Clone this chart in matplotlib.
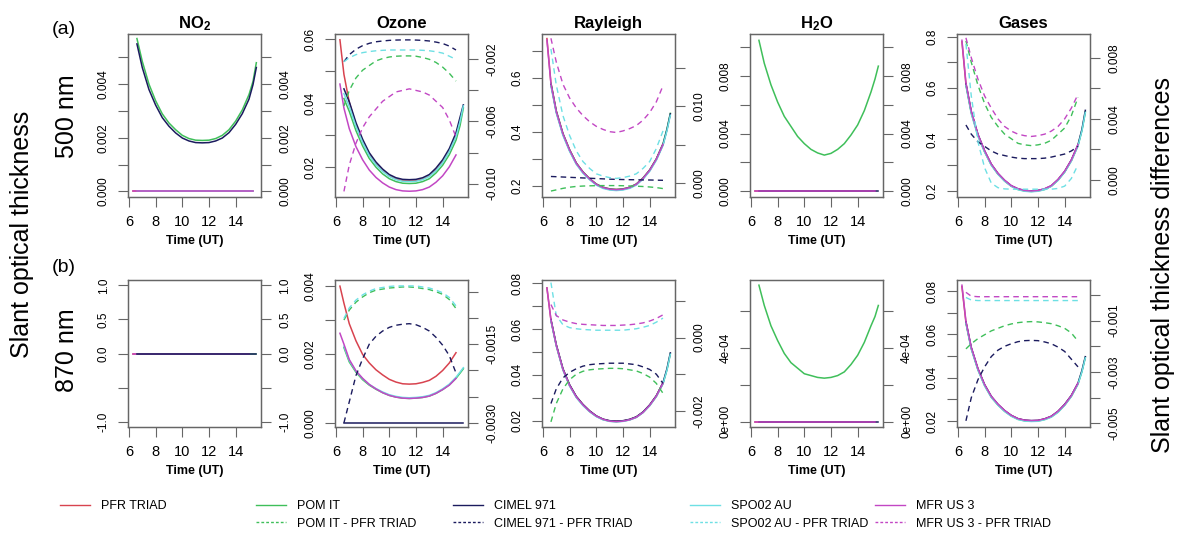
import numpy as np
import matplotlib
matplotlib.use("Agg")
import matplotlib.pyplot as plt
from matplotlib.lines import Line2D

plt.rcParams['font.family'] = ['Liberation Sans', 'DejaVu Sans']
plt.rcParams['mathtext.fontset'] = 'custom'
plt.rcParams['mathtext.rm'] = 'Liberation Sans'
plt.rcParams['mathtext.bf'] = 'Liberation Sans:bold'
plt.rcParams['mathtext.it'] = 'Liberation Sans:italic'

nan = np.nan

# time of the day (UT)
time_ut = [6.3, 6.6, 7.0, 7.5, 8.0, 8.5, 9.0, 9.5, 10.0, 10.5, 11.0, 11.5, 12.0, 12.5, 13.0, 13.5, 14.0, 14.5, 15.0, 15.3, 15.55]

# ---------------- 500 nm ----------------
no2_a_pfr = [0, 0, 0, 0, 0, 0, 0, 0, 0, 0, 0, 0, 0, 0, 0, 0, 0, 0, 0, 0, nan]
no2_a_pom = [nan, 0.0057, 0.00485, 0.0040, 0.00338, 0.00289, 0.00255, 0.0023, 0.00209, 0.00197, 0.00191, 0.0019, 0.00191, 0.00197, 0.00209, 0.0023, 0.00262, 0.00304, 0.00361, 0.0041, 0.0048]
no2_a_cimel = [nan, 0.0055, 0.00462, 0.0038, 0.00322, 0.00275, 0.00243, 0.00218, 0.00199, 0.00188, 0.00182, 0.00181, 0.00182, 0.00188, 0.00199, 0.00219, 0.0025, 0.0029, 0.00344, 0.00398, 0.00462]
no2_a_spo = [nan, 0, 0, 0, 0, 0, 0, 0, 0, 0, 0, 0, 0, 0, 0, 0, 0, 0, 0, 0, nan]
no2_a_mfr = [0, 0, 0, 0, 0, 0, 0, 0, 0, 0, 0, 0, 0, 0, 0, 0, 0, 0, 0, 0, nan]

oz_a_pfr = [0.0598, 0.049, 0.0403, 0.0332, 0.0281, 0.024, 0.0212, 0.0191, 0.0174, 0.0164, 0.0159, 0.0158, 0.0159, 0.0164, 0.0174, 0.0193, 0.0218, 0.0253, 0.030, nan, nan]
oz_a_pom = [nan, 0.0415, 0.0375, 0.0315, 0.0267, 0.0228, 0.0201, 0.018, 0.0165, 0.0156, 0.0151, 0.0150, 0.0151, 0.0156, 0.0165, 0.0183, 0.0207, 0.024, 0.0285, 0.033, 0.0385]
oz_a_cimel = [nan, 0.0445, 0.0405, 0.034, 0.0288, 0.0246, 0.0217, 0.0195, 0.0178, 0.0168, 0.0163, 0.0162, 0.0163, 0.0168, 0.0178, 0.0198, 0.0224, 0.0259, 0.0308, 0.0356, 0.0395]
oz_a_spo = [nan, 0.043, 0.039, 0.0328, 0.0278, 0.0237, 0.0209, 0.0188, 0.0172, 0.0162, 0.0157, 0.0156, 0.0157, 0.0162, 0.0172, 0.019, 0.0215, 0.025, 0.0296, 0.0343, 0.0392]
oz_a_mfr = [0.046, 0.0385, 0.0321, 0.0265, 0.0224, 0.0192, 0.0169, 0.0152, 0.0139, 0.0131, 0.0127, 0.0126, 0.0127, 0.0131, 0.0139, 0.0154, 0.0174, 0.0202, 0.0239, nan, nan]
oz_a_pom_d = [nan, -0.0050, -0.0040, -0.0032, -0.0027, -0.0024, -0.0021, -0.00195, -0.00185, -0.0018, -0.00178, -0.00178, -0.0018, -0.00188, -0.0020, -0.0022, -0.0025, -0.0029, -0.0034, nan, nan]
oz_a_cimel_d = [nan, -0.00215, -0.0017, -0.00135, -0.00112, -0.00097, -0.00087, -0.00082, -0.00078, -0.00076, -0.00075, -0.00075, -0.00076, -0.00078, -0.00082, -0.00089, -0.00098, -0.00115, -0.0014, nan, nan]
oz_a_spo_d = [nan, -0.00215, -0.0019, -0.0017, -0.00157, -0.0015, -0.00145, -0.00142, -0.0014, -0.0014, -0.0014, -0.0014, -0.0014, -0.00142, -0.00145, -0.00151, -0.0016, -0.0018, -0.0020, nan, nan]
oz_a_mfr_d = [nan, -0.0105, -0.0088, -0.0074, -0.0064, -0.0057, -0.0052, -0.0047, -0.0044, -0.0041, -0.0040, -0.0039, -0.0040, -0.0041, -0.0043, -0.0047, -0.0051, -0.0059, -0.0070, nan, nan]

ray_a_pfr = [0.745, 0.58, 0.477, 0.393, 0.333, 0.284, 0.251, 0.226, 0.206, 0.194, 0.188, 0.186, 0.188, 0.194, 0.206, 0.228, 0.258, 0.299, 0.355, nan, nan]
ray_a_pom = [nan, 0.58, 0.477, 0.393, 0.333, 0.284, 0.251, 0.226, 0.206, 0.194, 0.188, 0.186, 0.188, 0.194, 0.206, 0.228, 0.258, 0.299, 0.355, 0.411, 0.468]
ray_a_cimel = [nan, 0.575, 0.473, 0.39, 0.33, 0.282, 0.249, 0.224, 0.204, 0.192, 0.186, 0.184, 0.186, 0.192, 0.204, 0.226, 0.256, 0.297, 0.352, 0.408, 0.466]
ray_a_spo = [nan, 0.57, 0.469, 0.386, 0.327, 0.279, 0.246, 0.222, 0.202, 0.19, 0.184, 0.182, 0.184, 0.19, 0.202, 0.224, 0.253, 0.294, 0.349, 0.404, 0.461]
ray_a_mfr = [0.74, 0.578, 0.475, 0.392, 0.332, 0.283, 0.25, 0.225, 0.205, 0.193, 0.187, 0.185, 0.187, 0.193, 0.205, 0.227, 0.257, 0.298, 0.353, nan, nan]
ray_a_pom_d = [nan, -0.00105, -0.0009, -0.0007, -0.00055, -0.00045, -0.0004, -0.00037, -0.00035, -0.00034, -0.00034, -0.00034, -0.00036, -0.00039, -0.00042, -0.00046, -0.00052, -0.0006, -0.00073, nan, nan]
ray_a_cimel_d = [nan, 0.00085, 0.00082, 0.00078, 0.00074, 0.0007, 0.00066, 0.00062, 0.00058, 0.00054, 0.0005, 0.00047, 0.00045, 0.00043, 0.00042, 0.0004, 0.00039, 0.00037, 0.00035, nan, nan]
ray_a_spo_d = [nan, 0.0175, 0.0128, 0.0088, 0.0062, 0.0042, 0.0028, 0.0019, 0.0012, 0.0009, 0.0007, 0.0006, 0.0007, 0.0009, 0.0012, 0.0019, 0.0028, 0.0045, 0.0068, nan, nan]
ray_a_mfr_d = [nan, 0.0189, 0.0158, 0.0129, 0.0111, 0.0098, 0.0088, 0.008, 0.0074, 0.0070, 0.0067, 0.0066, 0.0068, 0.0071, 0.0075, 0.0082, 0.0092, 0.0106, 0.0127, nan, nan]

h2o_a_pfr = [0, 0, 0, 0, 0, 0, 0, 0, 0, 0, 0, 0, 0, 0, 0, 0, 0, 0, 0, 0, nan]
h2o_a_pom = [nan, 0.0105, 0.0089, 0.0074, 0.0062, 0.0052, 0.0045, 0.0038, 0.0033, 0.0029, 0.00265, 0.0025, 0.00262, 0.0029, 0.0033, 0.0039, 0.0046, 0.0056, 0.0069, 0.0078, 0.0087]
h2o_a_cimel = [nan, 0, 0, 0, 0, 0, 0, 0, 0, 0, 0, 0, 0, 0, 0, 0, 0, 0, 0, 0, 0]
h2o_a_mfr = [0, 0, 0, 0, 0, 0, 0, 0, 0, 0, 0, 0, 0, 0, 0, 0, 0, 0, 0, 0, nan]

gas_a_pfr = [0.78, 0.615, 0.506, 0.417, 0.353, 0.302, 0.266, 0.239, 0.218, 0.206, 0.2, 0.198, 0.2, 0.206, 0.218, 0.242, 0.274, 0.318, 0.377, nan, nan]
gas_a_pom = [nan, 0.612, 0.503, 0.415, 0.352, 0.301, 0.265, 0.238, 0.218, 0.205, 0.199, 0.197, 0.199, 0.205, 0.218, 0.241, 0.273, 0.317, 0.376, 0.436, 0.507]
gas_a_cimel = [nan, 0.617, 0.508, 0.419, 0.355, 0.303, 0.267, 0.24, 0.219, 0.207, 0.201, 0.199, 0.201, 0.207, 0.219, 0.243, 0.275, 0.319, 0.379, 0.44, 0.513]
gas_a_spo = [nan, 0.61, 0.5, 0.412, 0.35, 0.299, 0.264, 0.237, 0.217, 0.204, 0.198, 0.196, 0.198, 0.204, 0.217, 0.24, 0.272, 0.315, 0.374, 0.434, 0.505]
gas_a_mfr = [0.786, 0.62, 0.51, 0.42, 0.356, 0.304, 0.268, 0.241, 0.22, 0.208, 0.201, 0.199, 0.201, 0.208, 0.22, 0.244, 0.276, 0.32, 0.38, nan, nan]
gas_a_pom_d = [nan, 0.0091, 0.0077, 0.0062, 0.0050, 0.0041, 0.0035, 0.003, 0.0027, 0.0024, 0.0023, 0.00225, 0.0023, 0.0024, 0.0026, 0.003, 0.0034, 0.0042, 0.0054, nan, nan]
gas_a_cimel_d = [nan, 0.0036, 0.0030, 0.0025, 0.0022, 0.0019, 0.0017, 0.0016, 0.0015, 0.00143, 0.0014, 0.0014, 0.0014, 0.00143, 0.0015, 0.0016, 0.0017, 0.0019, 0.0022, nan, nan]
gas_a_spo_d = [nan, 0.0089, 0.0055, 0.0025, 0.0008, -0.0002, -0.0005, -0.00058, -0.0006, -0.0006, -0.0006, -0.0006, -0.0006, -0.0006, -0.0006, -0.00055, -0.0004, 0.0001, 0.0010, nan, nan]
gas_a_mfr_d = [nan, 0.0093, 0.0080, 0.0066, 0.0055, 0.0047, 0.0040, 0.0035, 0.0032, 0.003, 0.0029, 0.00285, 0.0029, 0.003, 0.0032, 0.0035, 0.0040, 0.0047, 0.0056, nan, nan]

# ---------------- 870 nm ----------------
no2_b_pfr = [0, 0, 0, 0, 0, 0, 0, 0, 0, 0, 0, 0, 0, 0, 0, 0, 0, 0, 0, nan, nan]
no2_b_pom = [nan, 0, 0, 0, 0, 0, 0, 0, 0, 0, 0, 0, 0, 0, 0, 0, 0, 0, 0, 0, 0]
no2_b_mfr = [0, 0, 0, 0, 0, 0, 0, 0, 0, 0, 0, 0, 0, 0, 0, 0, 0, 0, 0, nan, nan]
no2_b_cimel = [nan, 0, 0, 0, 0, 0, 0, 0, 0, 0, 0, 0, 0, 0, 0, 0, 0, 0, 0, 0, 0]

oz_b_pfr = [0.0040, 0.0035, 0.0029, 0.0024, 0.0020, 0.00175, 0.00155, 0.0014, 0.00127, 0.00119, 0.00114, 0.00113, 0.00114, 0.00118, 0.00124, 0.00136, 0.00153, 0.00175, 0.00205, nan, nan]
oz_b_pom = [nan, 0.0022, 0.00178, 0.00148, 0.00126, 0.0011, 0.00098, 0.00088, 0.0008, 0.00075, 0.00072, 0.00071, 0.00072, 0.00074, 0.00078, 0.00086, 0.00097, 0.00111, 0.0013, 0.00145, 0.00158]
oz_b_cimel = [nan, 0, 0, 0, 0, 0, 0, 0, 0, 0, 0, 0, 0, 0, 0, 0, 0, 0, 0, 0, 0]
oz_b_spo = [nan, 0.00224, 0.00182, 0.00151, 0.00129, 0.00112, 0.001, 0.0009, 0.00082, 0.00077, 0.00074, 0.00073, 0.00074, 0.00076, 0.0008, 0.00088, 0.00099, 0.00113, 0.00133, 0.00148, 0.00161]
oz_b_mfr = [0.00262, 0.0023, 0.00185, 0.00152, 0.0013, 0.00112, 0.00099, 0.00088, 0.0008, 0.00075, 0.00072, 0.00071, 0.00072, 0.00074, 0.00078, 0.00086, 0.00097, 0.0011, 0.0013, nan, nan]
oz_b_pom_d = [nan, -0.00104, -0.00085, -0.0007, -0.0006, -0.00052, -0.00047, -0.00045, -0.00043, -0.00042, -0.00041, -0.00041, -0.00042, -0.00044, -0.00046, -0.0005, -0.00055, -0.00065, -0.00082, nan, nan]
oz_b_cimel_d = [nan, -0.0030, -0.0026, -0.0021, -0.00178, -0.0015, -0.00135, -0.00125, -0.00118, -0.00114, -0.00112, -0.00111, -0.00113, -0.00118, -0.00125, -0.00137, -0.00152, -0.00172, -0.00205, nan, nan]
oz_b_spo_d = [nan, -0.00101, -0.00081, -0.00066, -0.00056, -0.00049, -0.00044, -0.00042, -0.0004, -0.00039, -0.00039, -0.00039, -0.00039, -0.00041, -0.00043, -0.00047, -0.00052, -0.00061, -0.00077, nan, nan]

ray_b_pfr = [0.078, 0.064, 0.053, 0.0425, 0.0355, 0.0305, 0.027, 0.0242, 0.022, 0.0206, 0.0199, 0.0197, 0.0199, 0.0205, 0.0216, 0.0237, 0.0268, 0.0308, 0.0365, nan, nan]
ray_b_pom = [nan, 0.0638, 0.0528, 0.0423, 0.0353, 0.0303, 0.0268, 0.024, 0.0219, 0.0205, 0.0198, 0.0196, 0.0198, 0.0204, 0.0215, 0.0236, 0.0266, 0.0306, 0.0362, 0.0423, 0.0492]
ray_b_cimel = [nan, 0.0642, 0.0532, 0.0427, 0.0357, 0.0306, 0.0271, 0.0243, 0.0221, 0.0207, 0.02, 0.0198, 0.02, 0.0206, 0.0217, 0.0238, 0.0269, 0.0309, 0.0366, 0.0427, 0.0496]
ray_b_spo = [nan, 0.0636, 0.0526, 0.0421, 0.0351, 0.0301, 0.0266, 0.0239, 0.0218, 0.0204, 0.0197, 0.0195, 0.0197, 0.0203, 0.0214, 0.0235, 0.0265, 0.0305, 0.0361, 0.0421, 0.049]
ray_b_mfr = [0.0779, 0.0639, 0.0529, 0.0424, 0.0354, 0.0304, 0.0269, 0.0241, 0.022, 0.0206, 0.0198, 0.0196, 0.0198, 0.0204, 0.0215, 0.0236, 0.0267, 0.0307, 0.0364, nan, nan]
ray_b_pom_d = [nan, -0.0023, -0.0018, -0.0014, -0.00115, -0.001, -0.00092, -0.00088, -0.00086, -0.00085, -0.00084, -0.00084, -0.00085, -0.00088, -0.00091, -0.00098, -0.00108, -0.00125, -0.00152, nan, nan]
ray_b_cimel_d = [nan, -0.0018, -0.0014, -0.0011, -0.00095, -0.00085, -0.00078, -0.00074, -0.00072, -0.00071, -0.0007, -0.0007, -0.0007, -0.00072, -0.00074, -0.0008, -0.00087, -0.001, -0.00125, nan, nan]
ray_b_spo_d = [nan, 0.0015, 0.0006, 0.00035, 0.00027, 0.00024, 0.00022, 0.00021, 0.0002, 0.0002, 0.0002, 0.0002, 0.0002, 0.00022, 0.00024, 0.00028, 0.00033, 0.00042, 0.00053, nan, nan]
ray_b_mfr_d = [nan, 0.0009, 0.0006, 0.00048, 0.00042, 0.00038, 0.00036, 0.00035, 0.00034, 0.00033, 0.00033, 0.00033, 0.00034, 0.00035, 0.00037, 0.0004, 0.00045, 0.00052, 0.00062, nan, nan]

h2o_b_pfr = [0, 0, 0, 0, 0, 0, 0, 0, 0, 0, 0, 0, 0, 0, 0, 0, 0, 0, 0, 0, nan]
h2o_b_pom = [nan, 0.00074, 0.00063, 0.00052, 0.00044, 0.00037, 0.00032, 0.00029, 0.00026, 0.00025, 0.00024, 0.000236, 0.00024, 0.00025, 0.00027, 0.00031, 0.00036, 0.00043, 0.00052, 0.00057, 0.00063]
h2o_b_cimel = [nan, 0, 0, 0, 0, 0, 0, 0, 0, 0, 0, 0, 0, 0, 0, 0, 0, 0, 0, 0, 0]
h2o_b_mfr = [0, 0, 0, 0, 0, 0, 0, 0, 0, 0, 0, 0, 0, 0, 0, 0, 0, 0, 0, 0, nan]

gas_b_pfr = [0.082, 0.0655, 0.0536, 0.0439, 0.0366, 0.0312, 0.0276, 0.0247, 0.0225, 0.021, 0.0203, 0.0201, 0.0202, 0.0209, 0.0221, 0.0243, 0.0275, 0.0316, 0.0373, nan, nan]
gas_b_pom = [nan, 0.0653, 0.0534, 0.0437, 0.0364, 0.031, 0.0274, 0.0245, 0.0223, 0.0208, 0.0201, 0.0199, 0.02, 0.0207, 0.0219, 0.0241, 0.0273, 0.0314, 0.0371, 0.043, 0.0494]
gas_b_cimel = [nan, 0.0658, 0.0539, 0.0441, 0.0368, 0.0314, 0.0277, 0.0248, 0.0226, 0.0211, 0.0204, 0.0202, 0.0203, 0.021, 0.0222, 0.0245, 0.0277, 0.0318, 0.0375, 0.0434, 0.0497]
gas_b_spo = [nan, 0.0651, 0.0532, 0.0435, 0.0362, 0.0309, 0.0273, 0.0244, 0.0222, 0.0207, 0.02, 0.0198, 0.0199, 0.0206, 0.0218, 0.024, 0.0272, 0.0313, 0.037, 0.0428, 0.0492]
gas_b_mfr = [0.0827, 0.066, 0.054, 0.0442, 0.0368, 0.0314, 0.0278, 0.0249, 0.0226, 0.0211, 0.0204, 0.0202, 0.0203, 0.021, 0.0222, 0.0245, 0.0276, 0.0317, 0.0375, nan, nan]
gas_b_pom_d = [nan, -0.0021, -0.0019, -0.0017, -0.00155, -0.0014, -0.0013, -0.0012, -0.00113, -0.00108, -0.00105, -0.00104, -0.00105, -0.00108, -0.00112, -0.0012, -0.0013, -0.00148, -0.0018, nan, nan]
gas_b_cimel_d = [nan, -0.0049, -0.0040, -0.0033, -0.0028, -0.0024, -0.00215, -0.002, -0.0019, -0.00182, -0.00178, -0.00177, -0.00178, -0.00183, -0.0019, -0.00203, -0.0022, -0.0025, -0.0028, nan, nan]
gas_b_spo_d = [nan, -0.0001, -0.0002, -0.00022, -0.00022, -0.00022, -0.00022, -0.00022, -0.00022, -0.00022, -0.00022, -0.00022, -0.00022, -0.00022, -0.00022, -0.00022, -0.00022, -0.00022, -0.00022, nan, nan]
gas_b_mfr_d = [nan, 0.0001, -0.00005, -0.00007, -0.00007, -0.00007, -0.00007, -0.00007, -0.00007, -0.00007, -0.00007, -0.00007, -0.00007, -0.00007, -0.00007, -0.00007, -0.00007, -0.00007, -0.00007, nan, nan]

instrument_names = ['PFR TRIAD', 'POM IT', 'CIMEL 971', 'SPO02 AU', 'MFR US 3']
colors = {'pfr': '#d8434f', 'pom': '#3fbf5a', 'cimel': '#1b1b5e', 'spo': '#6ee0e4', 'mfr': '#c247c4'}

panels = [
    dict(row=0, col=0, title='NO$_\\mathbf{2}$',
         solid={'pfr': no2_a_pfr, 'pom': no2_a_pom, 'cimel': no2_a_cimel, 'spo': no2_a_spo, 'mfr': no2_a_mfr},
         dashed={},
         ylim=(-0.00021, 0.00587), yt=[0, 0.001, 0.002, 0.003, 0.004, 0.005],
         ytl=['0.000', '', '0.002', '', '0.004', ''],
         ylim2=(-0.00021, 0.00587), yt2=[0, 0.001, 0.002, 0.003, 0.004, 0.005],
         ytl2=['0.000', '', '0.002', '', '0.004', '']),
    dict(row=0, col=1, title='Ozone',
         solid={'pfr': oz_a_pfr, 'pom': oz_a_pom, 'cimel': oz_a_cimel, 'spo': oz_a_spo, 'mfr': oz_a_mfr},
         dashed={'pom': oz_a_pom_d, 'cimel': oz_a_cimel_d, 'spo': oz_a_spo_d, 'mfr': oz_a_mfr_d},
         ylim=(0.0108, 0.0616), yt=[0.02, 0.03, 0.04, 0.05, 0.06],
         ytl=['0.02', '', '0.04', '', '0.06'],
         ylim2=(-0.01086, -0.00037), yt2=[-0.010, -0.008, -0.006, -0.004, -0.002],
         ytl2=['-0.010', '', '-0.006', '', '-0.002']),
    dict(row=0, col=2, title='Rayleigh',
         solid={'pfr': ray_a_pfr, 'pom': ray_a_pom, 'cimel': ray_a_cimel, 'spo': ray_a_spo, 'mfr': ray_a_mfr},
         dashed={'pom': ray_a_pom_d, 'cimel': ray_a_cimel_d, 'spo': ray_a_spo_d, 'mfr': ray_a_mfr_d},
         ylim=(0.158, 0.762), yt=[0.2, 0.3, 0.4, 0.5, 0.6, 0.7],
         ytl=['0.2', '', '0.4', '', '0.6', ''],
         ylim2=(-0.00183, 0.01946), yt2=[0, 0.005, 0.010, 0.015],
         ytl2=['0.000', '', '0.010', '']),
    dict(row=0, col=3, title='H$_\\mathbf{2}$O',
         solid={'pfr': h2o_a_pfr, 'pom': h2o_a_pom, 'cimel': h2o_a_cimel, 'mfr': h2o_a_mfr},
         dashed={},
         ylim=(-0.00042, 0.01094), yt=[0, 0.002, 0.004, 0.006, 0.008, 0.010],
         ytl=['0.000', '', '0.004', '', '0.008', ''],
         ylim2=(-0.00042, 0.01094), yt2=[0, 0.002, 0.004, 0.006, 0.008, 0.010],
         ytl2=['0.000', '', '0.004', '', '0.008', '']),
    dict(row=0, col=4, title='Gases',
         solid={'pfr': gas_a_pfr, 'pom': gas_a_pom, 'cimel': gas_a_cimel, 'spo': gas_a_spo, 'mfr': gas_a_mfr},
         dashed={'pom': gas_a_pom_d, 'cimel': gas_a_cimel_d, 'spo': gas_a_spo_d, 'mfr': gas_a_mfr_d},
         ylim=(0.1755, 0.8105), yt=[0.2, 0.3, 0.4, 0.5, 0.6, 0.7, 0.8],
         ytl=['0.2', '', '0.4', '', '0.6', '', '0.8'],
         ylim2=(-0.00111, 0.00955), yt2=[0, 0.002, 0.004, 0.006, 0.008],
         ytl2=['0.000', '', '0.004', '', '0.008']),
    dict(row=1, col=0, title=None, order=['pfr', 'pom', 'spo', 'mfr', 'cimel'],
         solid={'pfr': no2_b_pfr, 'pom': no2_b_pom, 'mfr': no2_b_mfr, 'cimel': no2_b_cimel},
         dashed={},
         ylim=(-1.08, 1.08), yt=[-1.0, -0.5, 0.0, 0.5, 1.0],
         ytl=['-1.0', '', '0.0', '0.5', '1.0'],
         ylim2=(-1.08, 1.08), yt2=[-1.0, -0.5, 0.0, 0.5, 1.0],
         ytl2=['-1.0', '', '0.0', '0.5', '1.0']),
    dict(row=1, col=1, title=None,
         solid={'pfr': oz_b_pfr, 'pom': oz_b_pom, 'cimel': oz_b_cimel, 'spo': oz_b_spo, 'mfr': oz_b_mfr},
         dashed={'pom': oz_b_pom_d, 'cimel': oz_b_cimel_d, 'spo': oz_b_spo_d},
         ylim=(-0.000126, 0.00418), yt=[0, 0.001, 0.002, 0.003, 0.004],
         ytl=['0.000', '', '0.002', '', '0.004'],
         ylim2=(-0.00308, -0.000277), yt2=[-0.003, -0.0025, -0.002, -0.0015, -0.001, -0.0005],
         ytl2=['-0.0030', '', '', '-0.0015', '', '']),
    dict(row=1, col=2, title=None,
         solid={'pfr': ray_b_pfr, 'pom': ray_b_pom, 'cimel': ray_b_cimel, 'spo': ray_b_spo, 'mfr': ray_b_mfr},
         dashed={'pom': ray_b_pom_d, 'cimel': ray_b_cimel_d, 'spo': ray_b_spo_d, 'mfr': ray_b_mfr_d},
         ylim=(0.01725, 0.0814), yt=[0.02, 0.03, 0.04, 0.05, 0.06, 0.07, 0.08],
         ytl=['0.02', '', '0.04', '', '0.06', '', '0.08'],
         ylim2=(-0.00244, 0.00157), yt2=[-0.002, -0.001, 0.0, 0.001],
         ytl2=['-0.002', '', '0.000', '']),
    dict(row=1, col=3, title=None,
         solid={'pfr': h2o_b_pfr, 'pom': h2o_b_pom, 'cimel': h2o_b_cimel, 'mfr': h2o_b_mfr},
         dashed={},
         ylim=(-0.0000287, 0.000768), yt=[0, 0.0002, 0.0004, 0.0006],
         ytl=['0e+00', '', '4e-04', ''],
         ylim2=(-0.0000287, 0.000768), yt2=[0, 0.0002, 0.0004, 0.0006],
         ytl2=['0e+00', '', '4e-04', '']),
    dict(row=1, col=4, title=None,
         solid={'pfr': gas_b_pfr, 'pom': gas_b_pom, 'cimel': gas_b_cimel, 'spo': gas_b_spo, 'mfr': gas_b_mfr},
         dashed={'pom': gas_b_pom_d, 'cimel': gas_b_cimel_d, 'spo': gas_b_spo_d, 'mfr': gas_b_mfr_d},
         ylim=(0.01724, 0.0851), yt=[0.02, 0.03, 0.04, 0.05, 0.06, 0.07, 0.08],
         ytl=['0.02', '', '0.04', '', '0.06', '', '0.08'],
         ylim2=(-0.00514, 0.00058), yt2=[-0.005, -0.004, -0.003, -0.002, -0.001, 0.0],
         ytl2=['-0.005', '', '-0.003', '', '-0.001', '']),
]

W, H = 1180, 539
fig = plt.figure(figsize=(W / 100, H / 100), dpi=100)

col_left = [128, 335, 542, 750, 957]
row_span = [(34, 197), (280, 427)]
box_w = 133
edge = '#666666'

for p in panels:
    top, bot = row_span[p['row']]
    left = col_left[p['col']]
    ax = fig.add_axes([left / W, 1 - bot / H, box_w / W, (bot - top) / H])
    ax2 = ax.twinx()

    for key in p.get('order', ['pfr', 'pom', 'cimel', 'spo', 'mfr']):
        if key in p['solid']:
            ax.plot(time_ut, p['solid'][key], color=colors[key], lw=1.1)
    for key in ['pom', 'cimel', 'spo', 'mfr']:
        if key in p['dashed']:
            ax2.plot(time_ut, p['dashed'][key], color=colors[key], lw=1.0, dashes=(4, 3))

    ax.set_xlim(5.93, 15.9)
    ax.set_ylim(*p['ylim'])
    ax2.set_ylim(*p['ylim2'])
    ax.set_xticks([6, 8, 10, 12, 14])
    ax.set_yticks(p['yt'])
    ax.set_yticklabels(p['ytl'], rotation=90, va='center')
    ax2.set_yticks(p['yt2'])
    ax2.set_yticklabels(p['ytl2'], rotation=90, va='center')

    for a in (ax, ax2):
        a.tick_params(direction='out', length=7, width=0.8, color=edge, pad=6)
        for s in a.spines.values():
            s.set_color(edge)
            s.set_linewidth(0.9)
    ax.tick_params(axis='x', labelsize=10.5)
    ax.tick_params(axis='y', labelsize=8.5)
    ax2.tick_params(axis='y', labelsize=8.5)

    ax.set_xlabel('Time (UT)', fontsize=9, fontweight='bold', labelpad=4)
    if p['title']:
        ax.set_title(p['title'], fontsize=12, fontweight='bold', pad=4)

fig.text(64 / W, 1 - 30 / H, '(a)', fontsize=14, ha='center', va='center')
fig.text(64 / W, 1 - 268 / H, '(b)', fontsize=14, ha='center', va='center')
fig.text(67 / W, 1 - 116 / H, '500 nm', fontsize=18, rotation=90, ha='center', va='center')
fig.text(67 / W, 1 - 350 / H, '870 nm', fontsize=18, rotation=90, ha='center', va='center')
fig.text(22 / W, 1 - 234 / H, 'Slant optical thickness', fontsize=18, rotation=90, ha='center', va='center')
fig.text(1163 / W, 1 - 265 / H, 'Slant optical thickness differences', fontsize=18, rotation=90,
         ha='center', va='center')

# legend, one block per instrument
keys = ['pfr', 'pom', 'cimel', 'spo', 'mfr']
legend_x = [60, 256, 453, 690, 875]
for i, key in enumerate(keys):
    handles = [Line2D([], [], color=colors[key], lw=1.0)]
    labels = [instrument_names[i]]
    if key != 'pfr':
        handles.append(Line2D([], [], color=colors[key], lw=1.0, dashes=(2, 1.5)))
        labels.append(instrument_names[i] + ' - PFR TRIAD')
    fig.legend(handles, labels, loc='upper left', bbox_to_anchor=(legend_x[i] / W, 1 - 500 / H),
               frameon=False, fontsize=9, handlelength=2.4, handletextpad=0.9,
               labelspacing=0.45, borderpad=0, borderaxespad=0)

fig.savefig('out.png', dpi=100)
